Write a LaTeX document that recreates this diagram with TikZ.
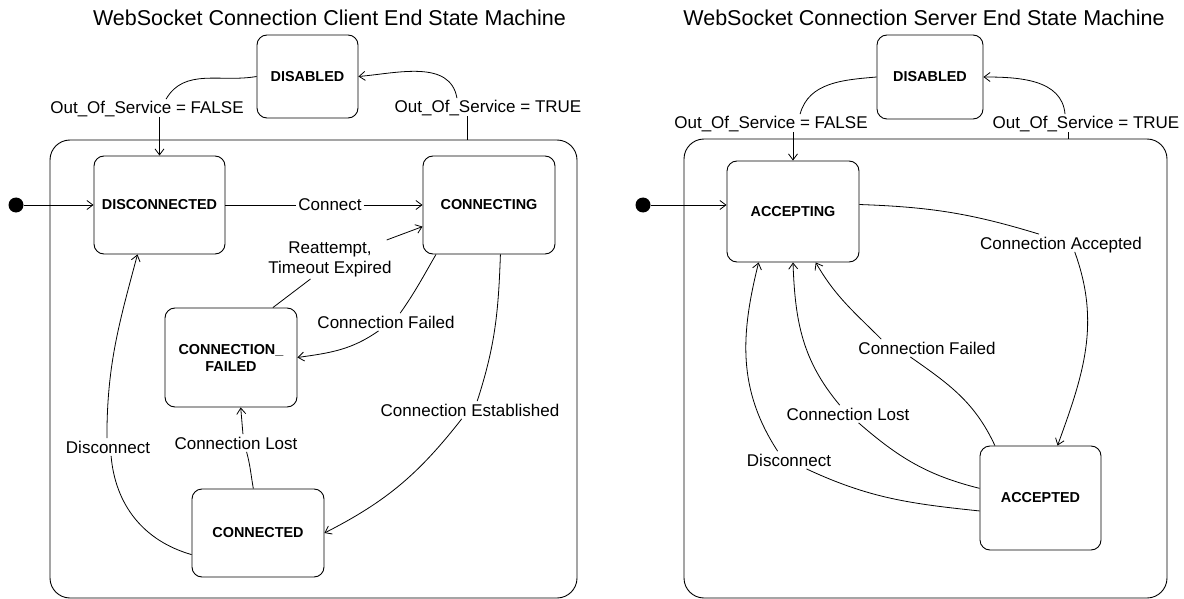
\documentclass[tikz,border=0pt]{standalone}
\usepackage{fontspec}
\setmainfont{Liberation Sans}
\usetikzlibrary{arrows.meta}

\begin{document}
\begin{tikzpicture}[x=1pt,y=1pt,line width=0.8pt,
    state/.style={draw,rounded corners=10pt,line width=0.9pt,align=center,inner sep=0pt,
        font=\fontsize{14.4}{17}\selectfont\bfseries},
    body/.style={draw,rounded corners=20pt,line width=0.9pt,inner sep=0pt},
    start/.style={circle,fill,inner sep=0pt,minimum size=15pt},
    lblbase/.style={inner sep=1.5pt,font=\fontsize{17}{20}\selectfont},
    lbl/.style={lblbase,text height=13pt,text depth=1pt},
    title/.style={font=\fontsize{21.5}{24}\selectfont},
    trans/.style={-{Straight Barb[length=6pt,width=9pt]}}]
    \useasboundingbox (0,0) rectangle (1184,-599);

    % titles
    \node[title] (cTitle) at (329.5,-18) {WebSocket Connection Client End State Machine};
    \node[title] (sTitle) at (924,-18) {WebSocket Connection Server End State Machine};

    % client end
    \node[body,minimum width=527pt,minimum height=458pt] (cBody) at (313.5,-369) {};
    \node[state,minimum width=101pt,minimum height=83pt] (cDisabled) at (307.5,-76.5) {DISABLED};
    \node[state,minimum width=131pt,minimum height=98pt] (cDisconnected) at (159.5,-205) {DISCONNECTED};
    \node[state,minimum width=132pt,minimum height=98pt] (cConnecting) at (489,-205) {CONNECTING};
    \node[state,minimum width=132pt,minimum height=99pt] (cFailed) at (231,-357.5) {CONNECTION\_\\FAILED};
    \node[state,minimum width=132pt,minimum height=88pt] (cConnected) at (258,-533) {CONNECTED};
    \node[start] (cInit) at (16,-205) {};

    \node[lbl] (cFalse) at (147,-108) {Out\_Of\_Service = FALSE};
    \node[lbl] (cTrue) at (488,-107) {Out\_Of\_Service = TRUE};
    \node[lbl] (cConnect) at (330,-205) {Connect};
    \node[lblbase,align=center] (cRetry) at (330,-259.5) {Reattempt,\\Timeout Expired};
    \node[lbl] (cFailLbl) at (386,-322) {Connection Failed};
    \node[lbl] (cLostLbl) at (236,-443) {Connection Lost};
    \node[lbl] (cDiscLbl) at (108,-447) {Disconnect};
    \node[lbl] (cEstLbl) at (470,-410) {Connection Established};
    \coordinate (cTrueFoot) at (467,-140);

    \draw[trans] (cInit) -- (cInit -| cDisconnected.west);
    \draw (cDisabled.west) to[out=190,in=60] (cFalse.25);
    \draw[trans] (cDisconnected.north |- cFalse.south) -- (cDisconnected.north);
    \draw (cTrueFoot) -- (cTrueFoot |- cTrue.south);
    \draw[trans] (cTrue.164) to[out=100,in=5] (cDisabled.east);
    \draw (cDisconnected) -- (cConnect);
    \draw[trans] (cConnect) -- (cConnecting);
    \draw (cFailed.50) -- (cRetry.225);
    \draw[trans] (cRetry.19) -- (cConnecting.198);
    \draw (cConnecting.223) to[out=-120,in=55] (cFailLbl.32);
    \draw[trans] (cFailLbl.230) to[out=-145,in=8] (cFailed.east);
    \draw (cConnected.96) to[out=100,in=-75] (cLostLbl.320);
    \draw[trans] (cLostLbl.52) -- (cFailed.281);
    \draw (cConnected.198) to[out=164,in=-85] (cDiscLbl.289);
    \draw[trans] (cDiscLbl.97) to[out=90,in=-105] (cDisconnected.246);
    \draw (cConnecting.283) to[out=-92,in=72] (cEstLbl.51);
    \draw[trans] (cEstLbl.227) to[out=-128,in=27] (cConnected.east);

    % server end
    \node[body,minimum width=483pt,minimum height=459pt] (sBody) at (925.5,-368.5) {};
    \node[state,minimum width=106pt,minimum height=84pt] (sDisabled) at (930,-77) {DISABLED};
    \node[state,minimum width=132pt,minimum height=101pt] (sAccepting) at (793,-211.5) {ACCEPTING};
    \node[state,minimum width=121pt,minimum height=104pt] (sAccepted) at (1040.5,-498) {ACCEPTED};
    \node[start] (sInit) at (643,-205) {};

    \node[lbl] (sFalse) at (771,-123) {Out\_Of\_Service = FALSE};
    \node[lbl] (sTrue) at (1086,-123) {Out\_Of\_Service = TRUE};
    \node[lbl] (sAccLbl) at (1061,-243) {Connection Accepted};
    \node[lbl] (sFailLbl) at (927,-348) {Connection Failed};
    \node[lbl] (sLostLbl) at (848,-414) {Connection Lost};
    \node[lbl] (sDiscLbl) at (789,-460) {Disconnect};
    \coordinate (sTrueFoot) at (1068,-139);

    \draw[trans] (sInit) -- (sInit -| sAccepting.west);
    \draw (sDisabled.west) to[out=185,in=75] (sFalse.17);
    \draw[trans] (sAccepting.north |- sFalse.south) -- (sAccepting.north);
    \draw (sTrueFoot) -- (sTrueFoot |- sTrue.south);
    \draw[trans] (sTrue.157) to[out=95,in=0] (sDisabled.east);
    \draw (sAccepting.6) to[out=-2,in=163] (sAccLbl.158);
    \draw[trans] (sAccLbl.327) to[out=-70,in=70] (sAccepted.72);
    \draw (sAccepted.131) to[out=115,in=-35] (sFailLbl.208);
    \draw[trans] (sFailLbl.169) to[out=135,in=-60] (sAccepting.294);
    \draw (sAccepted.171) to[out=166,in=-41] (sLostLbl.320);
    \draw[trans] (sLostLbl.133) to[out=130,in=-88] (sAccepting.south);
    \draw (sAccepted.192) to[out=174,in=-25] (sDiscLbl.333);
    \draw[trans] (sDiscLbl.142) to[out=123,in=-104] (sAccepting.236);
\end{tikzpicture}
\end{document}
